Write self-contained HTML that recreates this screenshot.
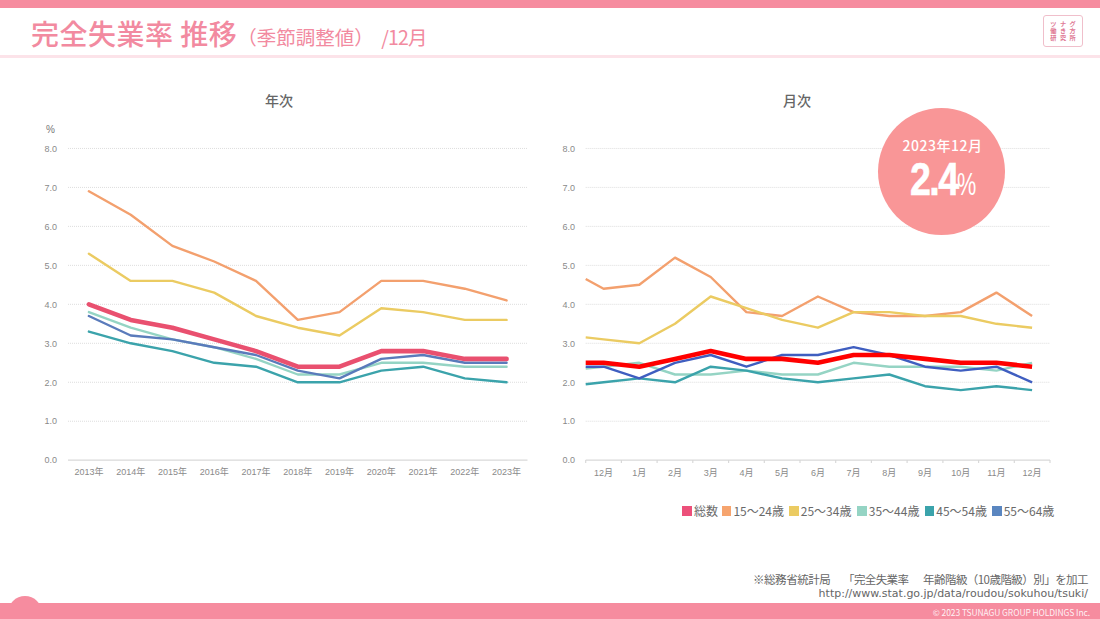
<!DOCTYPE html>
<html lang="ja"><head><meta charset="utf-8"><title>完全失業率 推移</title>
<style>
*{margin:0;padding:0;box-sizing:border-box}
html,body{width:1100px;height:619px;overflow:hidden;background:#fff}
body{position:relative;font-family:"Liberation Sans","Noto Sans CJK JP",sans-serif}
.topbar{position:absolute;left:0;top:0;width:1100px;height:8.4px;background:#F68C9F}
.title{position:absolute;left:31px;top:13px;white-space:nowrap;color:#F28AA0;font-family:"Noto Sans CJK JP",sans-serif;font-weight:500;font-size:28px;line-height:40px;letter-spacing:0.5px}
.title .sub{font-size:19.5px;font-weight:400;letter-spacing:0}
.title .mo{font-size:19.5px;font-weight:400;letter-spacing:-0.8px;margin-left:3px}
.uline{position:absolute;left:0;top:55px;width:1100px;height:2.5px;background:#FCE3E9}
.logo{position:absolute;left:1043px;top:15px;width:40px;height:32px;border:1px solid #F0BFCB;border-radius:3px}
.logo span{position:absolute;left:-1px;width:40px;white-space:nowrap;text-align:center;font-family:"Noto Sans CJK JP",sans-serif;font-weight:700;font-size:6.2px;line-height:7px;color:#E07A95;letter-spacing:3.5px;padding-left:3.5px}
.ct{position:absolute;top:90px;font-family:"Noto Sans CJK JP",sans-serif;font-weight:500;font-size:14px;line-height:20px;color:#666}
svg.ch{position:absolute;left:0;top:0}
.g{stroke:#DDDDDD;stroke-width:1;stroke-dasharray:1 1}
.ax{stroke:#D9D9D9;stroke-width:1.2}
.yl{font-family:"Liberation Sans","Noto Sans CJK JP",sans-serif;font-size:9px;fill:#8a8a8a;text-anchor:end}
.pc{font-family:"Liberation Sans",sans-serif;font-size:10px;fill:#777}
.xl{font-family:"Liberation Sans","Noto Sans CJK JP",sans-serif;font-size:9px;fill:#8a8a8a;text-anchor:middle}
.badge{position:absolute;left:877.5px;top:108px;width:127px;height:127px;border-radius:50%;background:#F99697}
.badge .d{position:absolute;left:1px;top:27px;width:128px;text-align:center;color:#fff;font-family:"Noto Sans CJK JP",sans-serif;font-weight:500;font-size:14px;line-height:20px;letter-spacing:0.5px}
.badge .n{position:absolute;left:32px;top:45px;color:#fff;font-family:"Liberation Sans",sans-serif;font-weight:700;font-size:47px;line-height:52px;letter-spacing:-2px;transform:scaleX(0.8);transform-origin:0 0;white-space:nowrap;-webkit-text-stroke:0.6px #fff}
.badge .p{position:absolute;left:79.5px;top:55.5px;color:#fff;font-family:"Liberation Sans",sans-serif;font-weight:400;font-size:30.5px;line-height:40px;transform:scaleX(0.71);transform-origin:0 0;white-space:nowrap}
.lg{position:absolute;top:502px;font-family:"Noto Sans CJK JP",sans-serif;font-size:12px;line-height:18px;color:#6a6a6a;white-space:nowrap}
.lg i{display:inline-block;width:9.5px;height:9.5px;margin-right:2px;vertical-align:0.5px}
.src{position:absolute;top:571.5px;font-family:"Noto Sans CJK JP",sans-serif;font-size:11.5px;line-height:15px;color:#666;white-space:pre}
.src2{position:absolute;right:12px;top:587px;text-align:right;font-family:"DejaVu Sans",sans-serif;font-size:11px;line-height:13px;color:#666;white-space:pre}
.botbar{position:absolute;left:0;top:603px;width:1100px;height:16px;background:#F68C9F}
.bump{position:absolute;left:8px;top:596.3px;width:34px;height:34px;border-radius:50%;background:#F68C9F}
.copy{position:absolute;right:10px;top:606px;font-family:"Noto Sans CJK JP",sans-serif;font-size:8.5px;line-height:12px;color:rgba(255,255,255,0.9);letter-spacing:-0.1px}
</style></head><body>
<div class="topbar"></div>
<div class="title">完全失業率 推移<span class="sub">（季節調整値） </span><span class="mo">/12月</span></div>
<div class="uline"></div>
<div class="logo"><span style="top:4.2px">ツナグ</span><span style="top:11.4px">働き方</span><span style="top:18.4px">研究所</span></div>
<div class="ct" style="left:265px">年次</div>
<div class="ct" style="left:783px">月次</div>
<svg class="ch" width="1100" height="619" viewBox="0 0 1100 619">
<line x1="68.0" y1="421.23" x2="527.5" y2="421.23" class="g"/>
<line x1="585.7" y1="421.23" x2="1050.0" y2="421.23" class="g"/>
<line x1="68.0" y1="382.26" x2="527.5" y2="382.26" class="g"/>
<line x1="585.7" y1="382.26" x2="1050.0" y2="382.26" class="g"/>
<line x1="68.0" y1="343.28999999999996" x2="527.5" y2="343.28999999999996" class="g"/>
<line x1="585.7" y1="343.28999999999996" x2="1050.0" y2="343.28999999999996" class="g"/>
<line x1="68.0" y1="304.32" x2="527.5" y2="304.32" class="g"/>
<line x1="585.7" y1="304.32" x2="1050.0" y2="304.32" class="g"/>
<line x1="68.0" y1="265.35" x2="527.5" y2="265.35" class="g"/>
<line x1="585.7" y1="265.35" x2="1050.0" y2="265.35" class="g"/>
<line x1="68.0" y1="226.38" x2="527.5" y2="226.38" class="g"/>
<line x1="585.7" y1="226.38" x2="1050.0" y2="226.38" class="g"/>
<line x1="68.0" y1="187.41000000000003" x2="527.5" y2="187.41000000000003" class="g"/>
<line x1="585.7" y1="187.41000000000003" x2="1050.0" y2="187.41000000000003" class="g"/>
<line x1="68.0" y1="148.44" x2="527.5" y2="148.44" class="g"/>
<line x1="585.7" y1="148.44" x2="1050.0" y2="148.44" class="g"/>
<line x1="68.0" y1="460.2" x2="527.5" y2="460.2" class="ax"/>
<line x1="585.7" y1="460.2" x2="1050.0" y2="460.2" class="ax"/>
<line x1="585.7" y1="460" x2="585.7" y2="463" class="ax"/>
<line x1="621.4" y1="460" x2="621.4" y2="463" class="ax"/>
<line x1="657.1" y1="460" x2="657.1" y2="463" class="ax"/>
<line x1="692.8" y1="460" x2="692.8" y2="463" class="ax"/>
<line x1="728.6" y1="460" x2="728.6" y2="463" class="ax"/>
<line x1="764.3" y1="460" x2="764.3" y2="463" class="ax"/>
<line x1="800.0" y1="460" x2="800.0" y2="463" class="ax"/>
<line x1="835.7" y1="460" x2="835.7" y2="463" class="ax"/>
<line x1="871.4" y1="460" x2="871.4" y2="463" class="ax"/>
<line x1="907.1" y1="460" x2="907.1" y2="463" class="ax"/>
<line x1="942.9" y1="460" x2="942.9" y2="463" class="ax"/>
<line x1="978.6" y1="460" x2="978.6" y2="463" class="ax"/>
<line x1="1014.3" y1="460" x2="1014.3" y2="463" class="ax"/>
<line x1="1050.0" y1="460" x2="1050.0" y2="463" class="ax"/>
<text x="57" y="463.4" class="yl">0.0</text>
<text x="575" y="463.4" class="yl">0.0</text>
<text x="57" y="424.4" class="yl">1.0</text>
<text x="575" y="424.4" class="yl">1.0</text>
<text x="57" y="385.5" class="yl">2.0</text>
<text x="575" y="385.5" class="yl">2.0</text>
<text x="57" y="346.5" class="yl">3.0</text>
<text x="575" y="346.5" class="yl">3.0</text>
<text x="57" y="307.5" class="yl">4.0</text>
<text x="575" y="307.5" class="yl">4.0</text>
<text x="57" y="268.6" class="yl">5.0</text>
<text x="575" y="268.6" class="yl">5.0</text>
<text x="57" y="229.6" class="yl">6.0</text>
<text x="575" y="229.6" class="yl">6.0</text>
<text x="57" y="190.6" class="yl">7.0</text>
<text x="575" y="190.6" class="yl">7.0</text>
<text x="57" y="151.6" class="yl">8.0</text>
<text x="575" y="151.6" class="yl">8.0</text>
<text x="46" y="133" class="pc">%</text>
<text x="88.9" y="474.5" class="xl">2013年</text>
<text x="130.7" y="474.5" class="xl">2014年</text>
<text x="172.4" y="474.5" class="xl">2015年</text>
<text x="214.2" y="474.5" class="xl">2016年</text>
<text x="256.0" y="474.5" class="xl">2017年</text>
<text x="297.8" y="474.5" class="xl">2018年</text>
<text x="339.5" y="474.5" class="xl">2019年</text>
<text x="381.3" y="474.5" class="xl">2020年</text>
<text x="423.1" y="474.5" class="xl">2021年</text>
<text x="464.8" y="474.5" class="xl">2022年</text>
<text x="506.6" y="474.5" class="xl">2023年</text>
<text x="603.6" y="475.5" class="xl">12月</text>
<text x="639.3" y="475.5" class="xl">1月</text>
<text x="675.0" y="475.5" class="xl">2月</text>
<text x="710.7" y="475.5" class="xl">3月</text>
<text x="746.4" y="475.5" class="xl">4月</text>
<text x="782.1" y="475.5" class="xl">5月</text>
<text x="817.9" y="475.5" class="xl">6月</text>
<text x="853.6" y="475.5" class="xl">7月</text>
<text x="889.3" y="475.5" class="xl">8月</text>
<text x="925.0" y="475.5" class="xl">9月</text>
<text x="960.7" y="475.5" class="xl">10月</text>
<text x="996.4" y="475.5" class="xl">11月</text>
<text x="1032.1" y="475.5" class="xl">12月</text>
<polyline points="88.9,191.3 130.7,214.7 172.4,245.9 214.2,261.5 256.0,280.9 297.8,319.9 339.5,312.1 381.3,280.9 423.1,280.9 464.8,288.7 506.6,300.4" stroke="#F3A06E" stroke-width="2.4" fill="none" stroke-linejoin="round" stroke-linecap="round"/>
<polyline points="88.9,253.7 130.7,280.9 172.4,280.9 214.2,292.6 256.0,316.0 297.8,327.7 339.5,335.5 381.3,308.2 423.1,312.1 464.8,319.9 506.6,319.9" stroke="#EBCB62" stroke-width="2.4" fill="none" stroke-linejoin="round" stroke-linecap="round"/>
<polyline points="88.9,312.1 130.7,327.7 172.4,339.4 214.2,347.2 256.0,358.9 297.8,374.5 339.5,374.5 381.3,362.8 423.1,362.8 464.8,366.7 506.6,366.7" stroke="#95D4C4" stroke-width="2.4" fill="none" stroke-linejoin="round" stroke-linecap="round"/>
<polyline points="88.9,331.6 130.7,343.3 172.4,351.1 214.2,362.8 256.0,366.7 297.8,382.3 339.5,382.3 381.3,370.6 423.1,366.7 464.8,378.4 506.6,382.3" stroke="#3BA3AB" stroke-width="2.4" fill="none" stroke-linejoin="round" stroke-linecap="round"/>
<polyline points="88.9,316.0 130.7,335.5 172.4,339.4 214.2,347.2 256.0,355.0 297.8,370.6 339.5,378.4 381.3,358.9 423.1,355.0 464.8,362.8 506.6,362.8" stroke="#5A7BBB" stroke-width="2.4" fill="none" stroke-linejoin="round" stroke-linecap="round"/>
<polyline points="88.9,304.3 130.7,319.9 172.4,327.7 214.2,339.4 256.0,351.1 297.8,366.7 339.5,366.7 381.3,351.1 423.1,351.1 464.8,358.9 506.6,358.9" stroke="#E9506F" stroke-width="4.6" fill="none" stroke-linejoin="round" stroke-linecap="round"/>
<polyline points="585.7,279.0 603.6,288.7 639.3,284.8 675.0,257.6 710.7,277.0 746.4,312.1 782.1,316.0 817.9,296.5 853.6,312.1 889.3,316.0 925.0,316.0 960.7,312.1 996.4,292.6 1032.1,316.0" stroke="#F3A06E" stroke-width="2.4" fill="none" stroke-linejoin="round" stroke-linecap="butt"/>
<polyline points="585.7,337.4 603.6,339.4 639.3,343.3 675.0,323.8 710.7,296.5 746.4,308.2 782.1,319.9 817.9,327.7 853.6,312.1 889.3,312.1 925.0,316.0 960.7,316.0 996.4,323.8 1032.1,327.7" stroke="#EBCB62" stroke-width="2.4" fill="none" stroke-linejoin="round" stroke-linecap="butt"/>
<polyline points="585.7,368.6 603.6,366.7 639.3,362.8 675.0,374.5 710.7,374.5 746.4,370.6 782.1,374.5 817.9,374.5 853.6,362.8 889.3,366.7 925.0,366.7 960.7,366.7 996.4,370.6 1032.1,362.8" stroke="#95D4C4" stroke-width="2.4" fill="none" stroke-linejoin="round" stroke-linecap="butt"/>
<polyline points="585.7,384.2 603.6,382.3 639.3,378.4 675.0,382.3 710.7,366.7 746.4,370.6 782.1,378.4 817.9,382.3 853.6,378.4 889.3,374.5 925.0,386.2 960.7,390.1 996.4,386.2 1032.1,390.1" stroke="#3BA3AB" stroke-width="2.4" fill="none" stroke-linejoin="round" stroke-linecap="butt"/>
<polyline points="585.7,366.7 603.6,366.7 639.3,378.4 675.0,362.8 710.7,355.0 746.4,366.7 782.1,355.0 817.9,355.0 853.6,347.2 889.3,355.0 925.0,366.7 960.7,370.6 996.4,366.7 1032.1,382.3" stroke="#3F5EC0" stroke-width="2.4" fill="none" stroke-linejoin="round" stroke-linecap="butt"/>
<polyline points="585.7,362.8 603.6,362.8 639.3,366.7 675.0,358.9 710.7,351.1 746.4,358.9 782.1,358.9 817.9,362.8 853.6,355.0 889.3,355.0 925.0,358.9 960.7,362.8 996.4,362.8 1032.1,366.7" stroke="#FF0000" stroke-width="4.6" fill="none" stroke-linejoin="round" stroke-linecap="butt"/>
</svg>
<div class="badge"><div class="d">2023年12月</div><div class="n">2.4</div><div class="p">%</div></div>
<div class="lg" style="left:682.4px"><i style="background:#EC507A"></i>総数</div>
<div class="lg" style="left:721.9px"><i style="background:#F6A46E"></i>15～24歳</div>
<div class="lg" style="left:789.3px"><i style="background:#EBCB62"></i>25～34歳</div>
<div class="lg" style="left:857.3px"><i style="background:#95D4C4"></i>35～44歳</div>
<div class="lg" style="left:924.8px"><i style="background:#3BA3AB"></i>45～54歳</div>
<div class="lg" style="left:992.2px"><i style="background:#5A86C0"></i>55～64歳</div>
<div class="src" style="left:753px;letter-spacing:-0.45px">※総務省統計局</div><div class="src" style="left:843px;letter-spacing:-0.6px">「完全失業率</div><div class="src" style="right:12px;letter-spacing:-0.55px">年齢階級（10歳階級）別」を加工</div>
<div class="src2">http://www.stat.go.jp/data/roudou/sokuhou/tsuki/</div>
<div class="bump"></div>
<div class="botbar"></div>
<div class="copy">© 2023 TSUNAGU GROUP HOLDINGS Inc.</div>
</body></html>
